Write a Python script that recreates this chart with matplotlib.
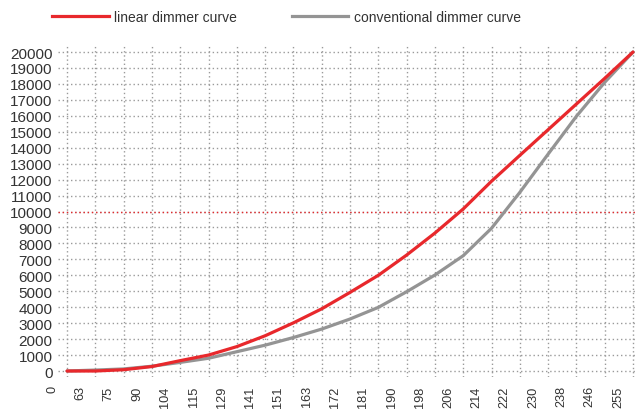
import matplotlib
matplotlib.use("Agg")
import matplotlib.pyplot as plt
import matplotlib.transforms as mtransforms
from matplotlib.lines import Line2D

x_labels = ["0", "63", "75", "90", "104", "115", "129", "141", "151", "163",
            "172", "181", "190", "198", "206", "214", "222", "230", "238", "246", "255"]
linear_curve = [0, 0, 80, 280, 650, 1000, 1530, 2210, 3020, 3900, 4930, 6000, 7270,
                8650, 10160, 11900, 13520, 15130, 16740, 18350, 20000]
conventional_curve = [0, 60, 130, 300, 540, 800, 1210, 1620, 2100, 2630, 3260, 3990,
                      4970, 6020, 7230, 8950, 11200, 13600, 15970, 18100, 20000]
y_ticks = list(range(0, 20001, 1000))

RED = "#e8282c"
GRAY = "#949494"
TXT = "#333333"

plt.rcParams['font.family'] = ['Liberation Sans', 'DejaVu Sans']

fig = plt.figure(figsize=(6.35, 4.10), dpi=100)
ax = fig.add_axes([58/635, 1 - 378/410, 577/635, 332/410])

xs = list(range(len(x_labels)))
ax.plot(xs, conventional_curve, color=GRAY, lw=2.3, solid_capstyle='round', zorder=3)
ax.plot(xs, linear_curve, color=RED, lw=2.3, solid_capstyle='round', zorder=4)

ax.set_xlim(-0.32, 20.07)
ax.set_ylim(-376, 20440)

ax.set_xticks(xs)
ax.set_xticklabels(x_labels, rotation=90, fontsize=9.2, color=TXT)
ax.set_yticks(y_ticks)
ax.set_yticklabels([str(v) for v in y_ticks], fontsize=11, color=TXT)
ax.tick_params(axis='both', length=0)
ax.tick_params(axis='y', pad=4)
ax.tick_params(axis='x', pad=6)

offset = mtransforms.ScaledTranslation(-15/100, 0, fig.dpi_scale_trans)
for lab in ax.get_xticklabels():
    lab.set_transform(lab.get_transform() + offset)

for s in ax.spines.values():
    s.set_visible(False)

ax.grid(True, linestyle=(0, (1, 2)), color="#9a9a9a", lw=1)
ax.set_axisbelow(True)
ax.axhline(10000, color=RED, linestyle=(0, (1, 2)), lw=1, zorder=2)

handles = [Line2D([], [], color=RED, lw=2.3), Line2D([], [], color=GRAY, lw=2.3)]
fig.legend(handles, ["linear dimmer curve", "conventional dimmer curve"],
           loc='center left', bbox_to_anchor=(52/635, 1 - 18/410), ncol=2,
           frameon=False, fontsize=10, handlelength=4.1, handletextpad=0.4,
           columnspacing=3.9, borderpad=0, borderaxespad=0, labelcolor=TXT)

fig.savefig("out.png", dpi=100)
